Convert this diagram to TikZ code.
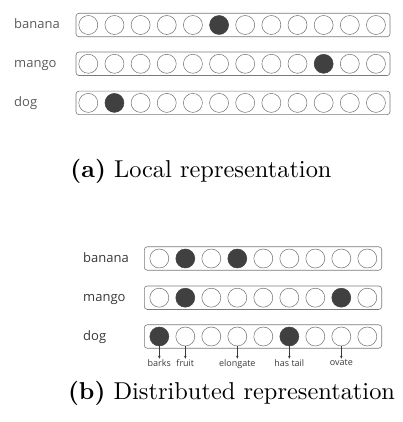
\documentclass[tikz,border=0pt]{standalone}
\usepackage{fontspec}
\usetikzlibrary{arrows.meta}
\newfontfamily\labfont{Open Sans}
\newfontfamily\capfont{lmroman10-regular}[Extension=.otf,BoldFont=lmroman10-bold]
\definecolor{boxgray}{HTML}{7A7A7A}
\definecolor{cellgray}{HTML}{6E6E6E}
\definecolor{cellfill}{HTML}{404040}
\definecolor{wordgray}{HTML}{5A5A5A}
\definecolor{wordgrayb}{HTML}{383838}
\definecolor{featgray}{HTML}{3A3A3A}
\begin{document}
\begin{tikzpicture}[x=1pt,y=-1pt,
  vecbox/.style={draw=boxgray, rounded corners=3pt, line width=0.6pt, inner sep=0pt, minimum height=23.5pt},
  cell/.style={circle, draw=cellgray, line width=0.5pt, minimum size=19pt, inner sep=0pt},
  on/.style={cell, fill=cellfill, draw=cellfill},
  word/.style={font=\labfont\fontsize{13}{13}\selectfont, text=wordgray, anchor=base west, inner sep=0pt},
  wordb/.style={word, text=wordgrayb},
  feat/.style={font=\labfont\fontsize{9}{10}\selectfont, text=featgray, anchor=north, inner sep=1pt},
  arr/.style={-{Stealth[length=3pt,width=2.6pt]}, line width=0.5pt, draw=featgray},
  captext/.style={font=\capfont\fontsize{24.4}{26}\selectfont, anchor=base, inner sep=0pt}]
\useasboundingbox (0,0) rectangle (403,422);

% ---------- (a) Local representation ----------
\foreach \nm/\yy/\on in {A1/25/5, A2/63.8/9, A3/102.9/1}{
  \node[vecbox, minimum width=314pt] (box\nm) at (233,\yy) {};
  \foreach \i in {0,...,11}{
    \ifnum\i=\on
      \node[on] (\nm-\i) at ({88.3+26.15*\i},\yy) {};
    \else
      \node[cell] (\nm-\i) at ({88.3+26.15*\i},\yy) {};
    \fi
  }
}
\node[word] (wA1) at (14,28.6) {banana};
\node[word] (wA2) at (14,67.4) {mango};
\node[word] (wA3) at (14,106.5) {dog};
\node[captext] (capA) at (201,177) {\textbf{(a)} Local representation};

% ---------- (b) Distributed representation ----------
\foreach \nm/\yy/\ona/\onb in {B1/258.5/1/3, B2/297.7/1/7, B3/336.5/0/5}{
  \node[vecbox, minimum width=237.4pt] (box\nm) at (263,\yy) {};
  \foreach \i in {0,...,8}{
    \pgfmathtruncatemacro{\isOn}{(\i==\ona)||(\i==\onb)}
    \ifnum\isOn=1
      \node[on] (\nm-\i) at ({159.3+26*\i},\yy) {};
    \else
      \node[cell] (\nm-\i) at ({159.3+26*\i},\yy) {};
    \fi
  }
}
\node[wordb] (wB1) at (83,262.3) {banana};
\node[wordb] (wB2) at (83,301.4) {mango};
\node[wordb] (wB3) at (83,340.2) {dog};

\foreach \i/\ft/\nm in {0/barks/f0, 1/fruit/f1, 3/elongate/f3, 5/has tail/f5, 7/ovate/f7}{
  \node[feat] (\nm) at ([yshift=-12.5pt]B3-\i.south) {\ft};
  \draw[arr] (B3-\i.south) -- (\nm.north);
}
\node[captext] (capB) at (231.5,399) {\textbf{(b)} Distributed representation};
\end{tikzpicture}
\end{document}
